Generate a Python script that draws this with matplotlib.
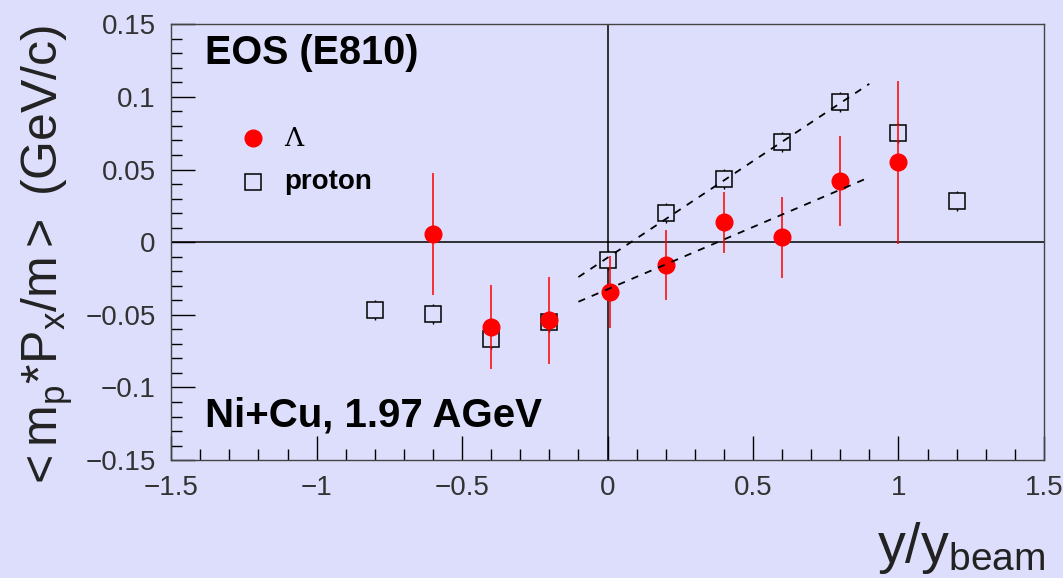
import numpy as np
import matplotlib
matplotlib.use("Agg")
from matplotlib import pyplot as plt
from matplotlib.ticker import MultipleLocator

plt.rcParams['font.family'] = ['Liberation Sans', 'DejaVu Sans']
plt.rcParams['mathtext.fontset'] = 'custom'
plt.rcParams['mathtext.rm'] = 'Liberation Sans'
plt.rcParams['mathtext.it'] = 'Liberation Sans'

# Lambda points
lam_x = [-0.6, -0.4, -0.2, 0.01, 0.2, 0.4, 0.6, 0.8, 1.0]
lam_y = [0.0055, -0.0585, -0.0537, -0.0344, -0.0158, 0.0138, 0.0034, 0.042, 0.055]
lam_err = [0.042, 0.029, 0.030, 0.025, 0.024, 0.021, 0.028, 0.031, 0.056]

# proton points
pro_x = [-0.8, -0.6, -0.4, -0.2, 0.0, 0.2, 0.4, 0.6, 0.8, 1.0, 1.2]
pro_y = [-0.0468, -0.0495, -0.0667, -0.055, -0.0124, 0.0199, 0.0433, 0.0688, 0.0963, 0.075, 0.0282]
pro_err = [0.007, 0.007, 0.007, 0.007, 0.007, 0.007, 0.007, 0.007, 0.007, 0.007, 0.007]

# fit lines (end points)
fit_x = [-0.1, 0.9]
fit_pro = [-0.024, 0.109]
fit_lam = [-0.041, 0.0447]

bg = '#dddefc'
fig = plt.figure(figsize=(10.63, 5.78), dpi=100, facecolor=bg)
ax = fig.add_axes([0.161, 0.204, 0.821, 0.754], facecolor=bg)

ax.axhline(0, color='black', lw=1.1, zorder=1)
ax.axvline(0, color='black', lw=1.1, zorder=1)

ax.plot(fit_x, fit_pro, color='black', ls=(0, (4, 4)), lw=1.3, zorder=4)
ax.plot(fit_x, fit_lam, color='black', ls=(0, (4, 4)), lw=1.3, zorder=4)

ax.errorbar(pro_x, pro_y, yerr=pro_err, fmt='s', ms=11, mfc=bg, mec='black',
            mew=1.1, ecolor='black', elinewidth=1, capsize=0, zorder=2)
ax.errorbar(lam_x, lam_y, yerr=lam_err, fmt='o', ms=12, mfc='red', mec='red',
            ecolor='red', elinewidth=1.1, capsize=0, zorder=3)

ax.set_xlim(-1.5, 1.5)
ax.set_ylim(-0.15, 0.15)
ax.xaxis.set_major_locator(MultipleLocator(0.5))
ax.xaxis.set_minor_locator(MultipleLocator(0.1))
ax.yaxis.set_major_locator(MultipleLocator(0.05))
ax.yaxis.set_minor_locator(MultipleLocator(0.01))
ax.tick_params(which='both', direction='in', top=False, right=False, color='black', width=1)
ax.tick_params(which='major', length=17, labelsize=20, pad=11)
ax.tick_params(which='minor', length=8)
ax.set_xticks([-1.5, -1, -0.5, 0, 0.5, 1, 1.5])
ax.set_xticklabels(['\u22121.5', '\u22121', '\u22120.5', '0', '0.5', '1', '1.5'])
ax.set_yticks([-0.15, -0.1, -0.05, 0, 0.05, 0.1, 0.15])
ax.set_yticklabels(['\u22120.15', '\u22120.1', '\u22120.05', '0', '0.05', '0.1', '0.15'])
for lbl in ax.get_xticklabels() + ax.get_yticklabels():
    lbl.set_color('#333333')
for s in ax.spines.values():
    s.set_color('#444444')
    s.set_linewidth(1)

ax.text(-1.385, 0.1305, 'EOS (E810)', fontsize=28.5, fontweight='bold', va='center', ha='left')
ax.text(-1.385, -0.119, 'Ni+Cu, 1.97 AGeV', fontsize=29, fontweight='bold', va='center', ha='left')

# legend
ax.plot([-1.22], [0.0716], 'o', ms=12, color='red')
ax.text(-1.11, 0.0716, '\u039b', fontsize=19, va='center', ha='left', family='DejaVu Serif')
ax.plot([-1.22], [0.0413], 's', ms=11, mfc='none', mec='black', mew=1.1)
ax.text(-1.11, 0.0413, 'proton', fontsize=20, fontweight='bold', va='center', ha='left')

fig.text(0.045, 0.553, r'$\mathrm{<m_p{*}P_x/m>\ (GeV/c)}$', rotation=90, fontsize=36,
         ha='center', va='center', color='#222222')
fig.text(0.983, 0.052, r'$\mathrm{y/y_{beam}}$', fontsize=40, ha='right', va='center', color='#222222')

plt.savefig('out.png', dpi=100, facecolor=bg)
